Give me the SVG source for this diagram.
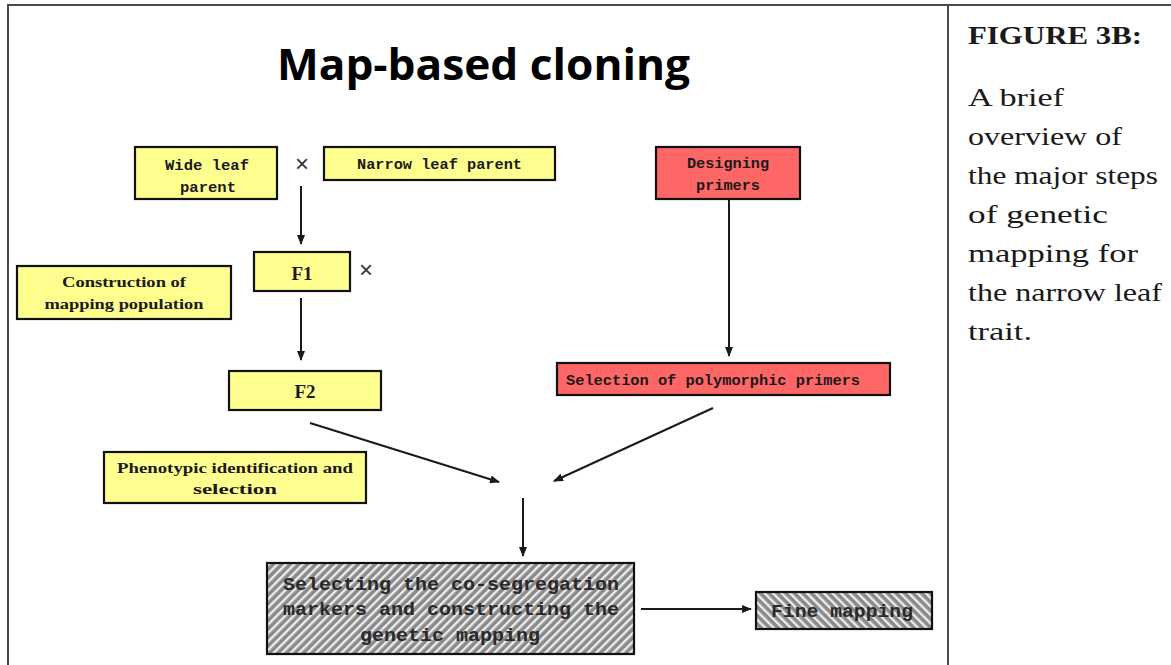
<svg xmlns="http://www.w3.org/2000/svg" width="1171" height="665" viewBox="0 0 1171 665">
<style>
.frame{stroke:#4a4a4a;stroke-width:2;fill:none}
.box{stroke:#111;stroke-width:2.2}
.yel{fill:#ffff90}
.red{fill:#ff6666}
.mono{font-family:"Liberation Mono","DejaVu Sans Mono",monospace;font-weight:bold;fill:#1a1a1a}
.ser{font-family:"Liberation Serif","DejaVu Serif",serif;font-weight:bold;fill:#1a1a1a}
.hat{font-family:"Liberation Mono","DejaVu Sans Mono",monospace;font-weight:bold;fill:#2a2a2a}
.cap{font-family:"Liberation Serif","DejaVu Serif",serif;fill:#1a1a1a;font-size:26px}
.conn{stroke:#1a1a1a;stroke-width:2;fill:none;marker-end:url(#ah)}
.x{font-family:"Liberation Sans","DejaVu Sans",sans-serif;font-size:24px;fill:#333;text-anchor:middle}
</style>
<defs>
<marker id="ah" markerUnits="userSpaceOnUse" markerWidth="10" markerHeight="8" refX="9" refY="4" orient="auto">
<path d="M0,0 L10,4 L0,8 Z" fill="#1a1a1a"/>
</marker>
<pattern id="hatchR" patternUnits="userSpaceOnUse" width="6" height="6" patternTransform="rotate(45)">
<rect width="6" height="6" fill="#8a8a8a"/>
<rect x="0" y="0" width="2.4" height="6" fill="#ececec"/>
</pattern>
<pattern id="hatchL" patternUnits="userSpaceOnUse" width="6" height="6" patternTransform="rotate(-45)">
<rect width="6" height="6" fill="#8a8a8a"/>
<rect x="0" y="0" width="2.4" height="6" fill="#ececec"/>
</pattern>
</defs>
<rect width="1171" height="665" fill="#fff"/>
<g id="frame">
<path class="frame" d="M8,665 V5 H1171 M948,5 V665"/>
</g>
<text id="title" x="277" y="80" font-family="'Open Sans','Liberation Sans',sans-serif" font-weight="bold" font-size="43" textLength="413" lengthAdjust="spacingAndGlyphs" fill="#000">Map-based cloning</text>
<g id="caption">
<text class="cap" x="968" y="44" font-weight="bold" font-size="28" textLength="174" lengthAdjust="spacingAndGlyphs">FIGURE 3B:</text>
<text class="cap" x="968" y="106" textLength="96" lengthAdjust="spacingAndGlyphs">A brief</text>
<text class="cap" x="968" y="145" textLength="154" lengthAdjust="spacingAndGlyphs">overview of</text>
<text class="cap" x="968" y="184" textLength="190" lengthAdjust="spacingAndGlyphs">the major steps</text>
<text class="cap" x="968" y="223" textLength="140" lengthAdjust="spacingAndGlyphs">of genetic</text>
<text class="cap" x="968" y="262" textLength="170" lengthAdjust="spacingAndGlyphs">mapping for</text>
<text class="cap" x="968" y="301" textLength="194" lengthAdjust="spacingAndGlyphs">the narrow leaf</text>
<text class="cap" x="968" y="340" textLength="64" lengthAdjust="spacingAndGlyphs">trait.</text>
</g>
<g id="connectors">
<line class="conn" x1="301" y1="186" x2="301" y2="244"/>
<line class="conn" x1="301" y1="298" x2="301" y2="360"/>
<line class="conn" x1="729" y1="199" x2="729" y2="356"/>
<line class="conn" x1="310" y1="423" x2="499" y2="482"/>
<line class="conn" x1="713" y1="408" x2="554" y2="481"/>
<line class="conn" x1="523" y1="498" x2="523" y2="556"/>
<line class="conn" x1="641" y1="609" x2="751" y2="609"/>
</g>
<g id="cross-symbols">
<text class="x" x="302" y="172">×</text>
<text class="x" x="366" y="278">×</text>
</g>
<g id="wide-leaf-parent">
<rect class="box yel" x="135" y="147" width="142" height="52"/>
<text class="mono" x="165" y="170" font-size="15" textLength="84" lengthAdjust="spacingAndGlyphs">Wide leaf</text>
<text class="mono" x="180" y="192" font-size="15" textLength="56" lengthAdjust="spacingAndGlyphs">parent</text>
</g>
<g id="narrow-leaf-parent">
<rect class="box yel" x="324" y="147" width="231" height="33"/>
<text class="mono" x="357" y="169" font-size="15" textLength="165" lengthAdjust="spacingAndGlyphs">Narrow leaf parent</text>
</g>
<g id="f1">
<rect class="box yel" x="254" y="252" width="96" height="39"/>
<text class="ser" x="302" y="280" font-size="19" text-anchor="middle">F1</text>
</g>
<g id="construction">
<rect class="box yel" x="17" y="266" width="214" height="53"/>
<text class="ser" x="124" y="287" font-size="15" text-anchor="middle" textLength="124" lengthAdjust="spacingAndGlyphs">Construction of</text>
<text class="ser" x="124" y="309" font-size="15" text-anchor="middle" textLength="159" lengthAdjust="spacingAndGlyphs">mapping population</text>
</g>
<g id="f2">
<rect class="box yel" x="229" y="371" width="152" height="39"/>
<text class="ser" x="305" y="398" font-size="19" text-anchor="middle">F2</text>
</g>
<g id="designing-primers">
<rect class="box red" x="656" y="147" width="144" height="52"/>
<text class="mono" x="728" y="168" font-size="15" text-anchor="middle" textLength="82" lengthAdjust="spacingAndGlyphs">Designing</text>
<text class="mono" x="728" y="190" font-size="15" text-anchor="middle" textLength="64" lengthAdjust="spacingAndGlyphs">primers</text>
</g>
<g id="selection-primers">
<rect class="box red" x="557" y="363" width="333" height="32"/>
<text class="mono" x="566" y="385" font-size="15" textLength="294" lengthAdjust="spacingAndGlyphs">Selection of polymorphic primers</text>
</g>
<g id="phenotypic">
<rect class="box yel" x="104" y="452" width="262" height="51"/>
<text class="ser" x="117" y="473" font-size="15" textLength="236" lengthAdjust="spacingAndGlyphs">Phenotypic  identification and</text>
<text class="ser" x="235" y="494" font-size="15" text-anchor="middle" textLength="84" lengthAdjust="spacingAndGlyphs">selection</text>
</g>
<g id="co-segregation">
<rect class="box" x="267" y="563" width="367" height="91" fill="url(#hatchR)"/>
<text class="hat" x="283" y="590" font-size="19" textLength="336" lengthAdjust="spacingAndGlyphs">Selecting the co-segregation</text>
<text class="hat" x="283" y="615" font-size="19" textLength="336" lengthAdjust="spacingAndGlyphs">markers and constructing the</text>
<text class="hat" x="450" y="641" font-size="19" text-anchor="middle" textLength="180" lengthAdjust="spacingAndGlyphs">genetic mapping</text>
</g>
<g id="fine-mapping">
<rect class="box" x="756" y="592" width="176" height="37" fill="url(#hatchL)"/>
<text class="hat" x="771" y="617" font-size="19" textLength="142" lengthAdjust="spacingAndGlyphs">Fine mapping</text>
</g>
</svg>
